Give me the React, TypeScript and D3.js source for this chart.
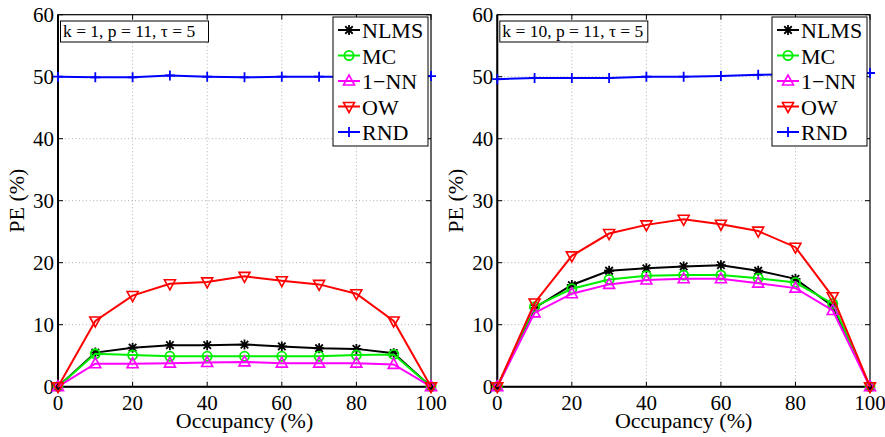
import React from "react";
import * as d3 from "d3";

// Occupancy levels (%) shared by both panels
const occupancy = [0, 10, 20, 30, 40, 50, 60, 70, 80, 90, 100];

// Panel 1: k = 1, p = 11, tau = 5
const nlmsK1 = [0, 5.5, 6.3, 6.7, 6.7, 6.8, 6.5, 6.2, 6.1, 5.4, 0];
const mcK1 = [0, 5.3, 5.1, 4.9, 4.9, 4.9, 4.9, 4.9, 5.1, 5.2, 0];
const nnK1 = [0, 3.7, 3.7, 3.8, 3.9, 4.0, 3.8, 3.8, 3.8, 3.6, 0];
const owK1 = [0, 10.6, 14.7, 16.6, 16.9, 17.8, 17.1, 16.5, 15.0, 10.6, 0];
const rndK1 = [50.0, 49.9, 49.9, 50.2, 50.0, 49.9, 50.0, 50.0, 50.0, 50.1, 50.1];

// Panel 2: k = 10, p = 11, tau = 5
const nlmsK10 = [0, 12.7, 16.4, 18.7, 19.1, 19.4, 19.6, 18.7, 17.4, 13.0, 0];
const mcK10 = [0, 12.9, 15.8, 17.3, 17.9, 18.0, 18.0, 17.5, 16.8, 13.4, 0];
const nnK10 = [0, 11.9, 15.0, 16.5, 17.2, 17.4, 17.4, 16.7, 15.9, 12.3, 0];
const owK10 = [0, 13.5, 21.1, 24.7, 26.1, 27.0, 26.2, 25.1, 22.5, 14.5, 0];
const rndK10 = [49.6, 49.8, 49.8, 49.8, 50.0, 50.0, 50.1, 50.3, 50.4, 50.5, 50.6];

const seriesNames = ["NLMS", "MC", "1\u2212NN", "OW", "RND"];
const seriesColors = ["#000000", "#00ee00", "#ff00ff", "#ff0000", "#0000ff"];
const seriesMarkers = ["star", "circle", "triUp", "triDown", "plus"];

const xTicks = [0, 20, 40, 60, 80, 100];
const yTicks = [0, 10, 20, 30, 40, 50, 60];
const panelTitles = ["k = 1, p = 11, \u03c4 = 5", "k = 10, p = 11, \u03c4 = 5"];

const FONT = "'Liberation Serif', 'Times New Roman', serif";

function Marker({ kind, x, y, color }: { kind: string; x: number; y: number; color: string }) {
  const s = 5;
  if (kind === "circle")
    return <circle cx={x} cy={y} r={4.6} fill="none" stroke={color} strokeWidth={1.8} />;
  if (kind === "triUp")
    return (
      <path
        d={`M${x},${y - 6} L${x + 5.5},${y + 4} L${x - 5.5},${y + 4} Z`}
        fill="none"
        stroke={color}
        strokeWidth={1.6}
      />
    );
  if (kind === "triDown")
    return (
      <path
        d={`M${x},${y + 6} L${x + 5.5},${y - 4} L${x - 5.5},${y - 4} Z`}
        fill="none"
        stroke={color}
        strokeWidth={1.6}
      />
    );
  if (kind === "plus")
    return (
      <path d={`M${x - s},${y} H${x + s} M${x},${y - s} V${y + s}`} stroke={color} strokeWidth={1.8} />
    );
  // asterisk
  const d = s * 0.75;
  return (
    <path
      d={`M${x - s},${y} H${x + s} M${x},${y - s} V${y + s} M${x - d},${y - d} L${x + d},${y + d} M${x - d},${y + d} L${x + d},${y - d}`}
      stroke={color}
      strokeWidth={1.8}
    />
  );
}

function Panel({
  x0,
  x1,
  data,
  title,
}: {
  x0: number;
  x1: number;
  data: number[][];
  title: string;
}) {
  const yTop = 14.7;
  const yBot = 386.7;
  const xs = d3.scaleLinear().domain([0, 100]).range([x0, x1]);
  const ys = d3.scaleLinear().domain([0, 60]).range([yBot, yTop]);
  const line = d3
    .line<number>()
    .x((_, i) => xs(occupancy[i]))
    .y((v) => ys(v));

  const legX = x1 - 98;
  const legY = 17;
  const legW = 95;
  const legH = 129;
  const rowY = (i: number) => 30 + i * 25.5;

  return (
    <g fontFamily={FONT} fill="#000">
      {/* grid */}
      {xTicks.slice(1, -1).map((t) => (
        <line key={"gx" + t} x1={xs(t)} x2={xs(t)} y1={yTop} y2={yBot} stroke="#b0b0b0" strokeWidth={1} strokeDasharray="1,2.5" />
      ))}
      {yTicks.slice(1, -1).map((t) => (
        <line key={"gy" + t} x1={x0} x2={x1} y1={ys(t)} y2={ys(t)} stroke="#b0b0b0" strokeWidth={1} strokeDasharray="1,2.5" />
      ))}
      {/* inward ticks on all sides */}
      {xTicks.map((t) => (
        <g key={"tx" + t}>
          <line x1={xs(t)} x2={xs(t)} y1={yBot} y2={yBot - 5} stroke="#000" />
          <line x1={xs(t)} x2={xs(t)} y1={yTop} y2={yTop + 5} stroke="#000" />
        </g>
      ))}
      {yTicks.map((t) => (
        <g key={"ty" + t}>
          <line x1={x0} x2={x0 + 5} y1={ys(t)} y2={ys(t)} stroke="#000" />
          <line x1={x1} x2={x1 - 5} y1={ys(t)} y2={ys(t)} stroke="#000" />
        </g>
      ))}
      {/* axes box */}
      <rect x={x0} y={yTop} width={x1 - x0} height={yBot - yTop} fill="none" stroke="#000" strokeWidth={1.2} />
      <line x1={x0} x2={x0} y1={yTop} y2={yBot} stroke="#000" strokeWidth={2} />
      <line x1={x0} x2={x1} y1={yBot} y2={yBot} stroke="#000" strokeWidth={2} />

      {/* tick labels */}
      {xTicks.map((t) => (
        <text key={"lx" + t} x={xs(t)} y={410} textAnchor="middle" fontSize={21}>
          {t}
        </text>
      ))}
      {yTicks.map((t) => (
        <text key={"ly" + t} x={x0 - 4} y={ys(t) + 7} textAnchor="end" fontSize={21}>
          {t}
        </text>
      ))}
      <text x={(x0 + x1) / 2} y={428} textAnchor="middle" fontSize={22}>
        Occupancy (%)
      </text>
      <text
        transform={`translate(${x0 - 34},${(yTop + yBot) / 2}) rotate(-90)`}
        textAnchor="middle"
        fontSize={22}
      >
        PE (%)
      </text>

      {/* series */}
      {data.map((vals, si) => (
        <g key={"s" + si}>
          <path d={line(vals) || ""} fill="none" stroke={seriesColors[si]} strokeWidth={2} />
          {vals.map((v, i) => (
            <Marker key={i} kind={seriesMarkers[si]} x={xs(occupancy[i])} y={ys(v)} color={seriesColors[si]} />
          ))}
        </g>
      ))}

      {/* parameter box */}
      <rect x={x0 + 2.5} y={21} width={title.length > 19 ? 148 : 139} height={21} fill="#fff" stroke="#000" strokeWidth={1} />
      <text x={x0 + 5} y={37} fontSize={17.5}>
        {title}
      </text>

      {/* legend */}
      <rect x={legX} y={legY} width={legW} height={legH} fill="#fff" stroke="#000" strokeWidth={1} />
      {seriesNames.map((n, i) => (
        <g key={"leg" + i}>
          <line x1={legX + 5} x2={legX + 27} y1={rowY(i)} y2={rowY(i)} stroke={seriesColors[i]} strokeWidth={2} />
          <Marker kind={seriesMarkers[i]} x={legX + 16} y={rowY(i)} color={seriesColors[i]} />
          <text x={legX + 29} y={rowY(i) + 8} fontSize={22}>
            {n}
          </text>
        </g>
      ))}
    </g>
  );
}

export default function App() {
  return (
    <svg
      width={885}
      height={437}
      style={{ position: "absolute", left: 0, top: 0, background: "#fff" }}
    >
      <rect width={885} height={437} fill="#fff" />
      <Panel x0={58} x1={431} data={[nlmsK1, mcK1, nnK1, owK1, rndK1]} title={panelTitles[0]} />
      <Panel x0={497.3} x1={870} data={[nlmsK10, mcK10, nnK10, owK10, rndK10]} title={panelTitles[1]} />
    </svg>
  );
}
